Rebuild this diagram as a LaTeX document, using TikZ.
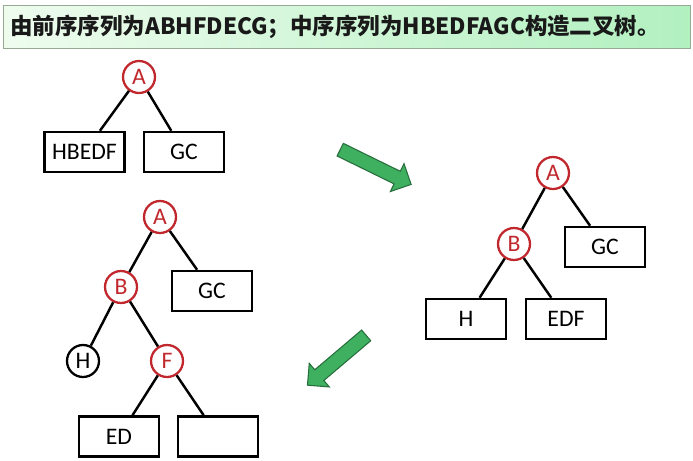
\documentclass[tikz,border=0pt]{standalone}
\usepackage{fontspec}
\setmainfont{Carlito}
\newfontfamily\cjk{Noto Sans CJK SC}
\usetikzlibrary{shapes.arrows}
\definecolor{nodered}{RGB}{192,40,45}
\definecolor{arrowgreen}{RGB}{62,176,96}
\definecolor{arrowedge}{RGB}{40,110,60}
\definecolor{barleft}{RGB}{238,252,238}
\definecolor{barright}{RGB}{178,240,192}
\definecolor{baredge}{RGB}{150,170,150}

\begin{document}
\begin{tikzpicture}[x=0.02cm, y=-0.02cm,
    keynode/.style={circle, draw=nodered, line width=1.3pt, text=nodered,
        minimum size=0.64cm, inner sep=0pt, font=\fontsize{13.5}{16}\selectfont},
    leafnode/.style={circle, draw=black, line width=1.3pt,
        minimum size=0.64cm, inner sep=0pt, font=\fontsize{13.5}{16}\selectfont},
    subtree/.style={rectangle, draw=black, line width=1.4pt,
        minimum width=1.6cm, minimum height=0.8cm, inner sep=0pt,
        font=\fontsize{13.5}{16}\selectfont},
    link/.style={line width=1.4pt},
    steparrow/.style={single arrow, fill=arrowgreen, draw=arrowedge, line width=0.6pt,
        single arrow head extend=0.17cm, inner xsep=0pt, inner ysep=0.13cm}]
  \useasboundingbox (0,0) rectangle (693,460);
  \node[draw=baredge, left color=barleft, right color=barright, anchor=north west,
        minimum height=0.86cm, text width=13.46cm, inner xsep=0.14cm, align=left,
        font=\cjk\bfseries\fontsize{12.8}{15}\selectfont, text=black!90] (title) at (3,5)
       {由前序序列为ABHFDECG；中序序列为HBEDFAGC构造二叉树。};

  \node[keynode] (a1) at (139,77) {A};
  \node[subtree] (hbedf) at (84.5,152) {HBEDF};
  \node[subtree] (gc1) at (184,152) {GC};
  \draw[link] (a1) -- (hbedf);
  \draw[link] (a1) -- (gc1);

  \node[steparrow, minimum height=1.58cm, rotate=-26.1] (next1) at (372.5,165.5) {};

  \node[keynode] (a2) at (553,173) {A};
  \node[keynode] (b2) at (514,244) {B};
  \node[subtree] (gc2) at (605,247) {GC};
  \node[subtree] (h2) at (466,319) {H};
  \node[subtree] (edf) at (566,319) {EDF};
  \draw[link] (a2) -- (b2);
  \draw[link] (a2) -- (gc2);
  \draw[link] (b2) -- (h2);
  \draw[link] (b2) -- (edf);

  \node[steparrow, minimum height=1.54cm, rotate=-139.7] (next2) at (339.5,358) {};

  \node[keynode] (a3) at (160,217) {A};
  \node[keynode] (b3) at (121,287) {B};
  \node[subtree] (gc3) at (212,291) {GC};
  \node[leafnode] (h3) at (83,361) {H};
  \node[keynode] (f3) at (167,361) {F};
  \node[subtree] (ed) at (119,436.5) {ED};
  \node[subtree] (empty) at (218,436.5) {};
  \draw[link] (a3) -- (b3);
  \draw[link] (a3) -- (gc3);
  \draw[link] (b3) -- (h3);
  \draw[link] (b3) -- (f3);
  \draw[link] (f3) -- (ed);
  \draw[link] (f3) -- (empty);
\end{tikzpicture}
\end{document}
